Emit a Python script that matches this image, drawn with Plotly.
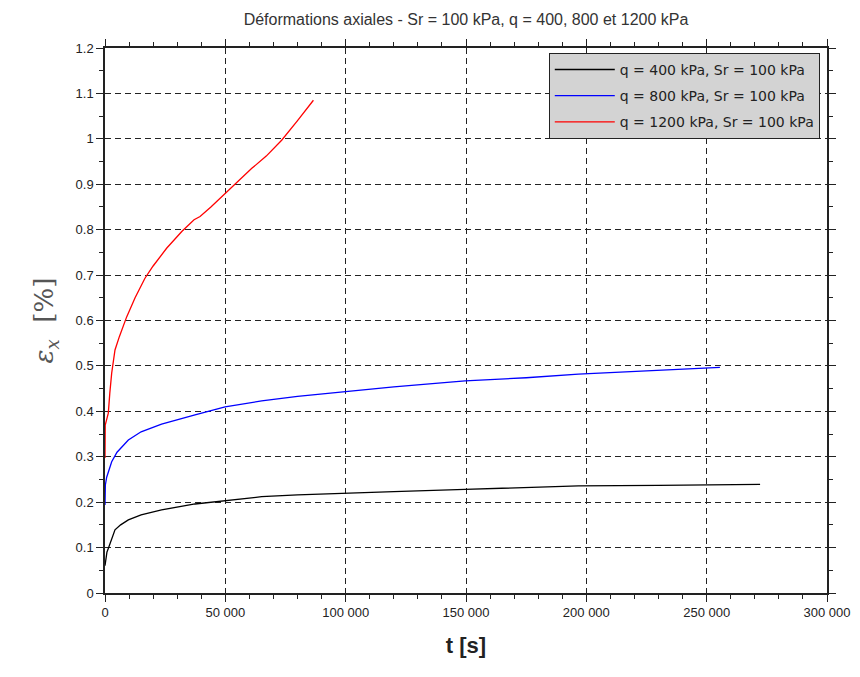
import plotly.graph_objects as go

t_400 = [0, 300, 800, 1370, 2500, 4150, 6500, 9700, 15000, 23500, 37400, 49900,
         65100, 80000, 93500, 120000, 149600, 175000, 196700, 230000, 272200]
eps_400 = [0.06, 0.075, 0.09, 0.098, 0.115, 0.139, 0.150, 0.161, 0.172, 0.183, 0.196, 0.203,
           0.212, 0.216, 0.218, 0.223, 0.228, 0.232, 0.236, 0.237, 0.239]

t_800 = [0, 150, 700, 1500, 2780, 5000, 9700, 15000, 23500, 37400, 49900, 65100,
         80000, 98900, 120000, 149600, 175000, 196700, 225000, 255500]
eps_800 = [0.194, 0.238, 0.255, 0.27, 0.289, 0.31, 0.337, 0.355, 0.372, 0.392, 0.41, 0.423,
           0.433, 0.443, 0.454, 0.467, 0.474, 0.482, 0.489, 0.497]

t_1200 = [0, 100, 600, 1370, 2000, 2780, 4150, 6000, 9000, 12500, 16600, 20000, 25600,
          31900, 37000, 39500, 44000, 49900, 55000, 61000, 67000, 73400, 80000, 86600]
eps_1200 = [0.297, 0.37, 0.38, 0.396, 0.44, 0.484, 0.535, 0.565, 0.608, 0.65, 0.693, 0.72, 0.759,
            0.796, 0.822, 0.829, 0.85, 0.88, 0.905, 0.935, 0.962, 0.997, 1.04, 1.085]

series_names = ["q = 400 kPa, Sr = 100 kPa", "q = 800 kPa, Sr = 100 kPa", "q = 1200 kPa, Sr = 100 kPa"]
series_colors = ["black", "blue", "red"]

x_tickvals = [0, 50000, 100000, 150000, 200000, 250000, 300000]
x_ticktext = ["0", "50 000", "100 000", "150 000", "200 000", "250 000", "300 000"]
y_tickvals = [0, 0.1, 0.2, 0.3, 0.4, 0.5, 0.6, 0.7, 0.8, 0.9, 1.0, 1.1, 1.2]
y_ticktext = ["0", "0.1", "0.2", "0.3", "0.4", "0.5", "0.6", "0.7", "0.8", "0.9", "1", "1.1", "1.2"]

fig = go.Figure()
for i, (t, e, n, c) in enumerate(zip([t_400, t_800, t_1200], [eps_400, eps_800, eps_1200],
                                     series_names, series_colors)):
    fig.add_trace(go.Scatter(x=t, y=e, mode="lines", name=n, legendgroup=f"g{i}",
                             line=dict(color=c, width=1.3)))

tickfont = dict(family="Liberation Sans, Arial, sans-serif", size=13, color="#222")
fig.update_layout(
    width=860, height=677,
    margin=dict(l=97, r=41, t=40, b=92),
    paper_bgcolor="white", plot_bgcolor="white",
    title=dict(text="Déformations axiales - Sr = 100 kPa, q = 400, 800 et 1200 kPa",
               x=0.5, xref="paper", xanchor="center", y=1 - 11 / 677, yanchor="middle",
               font=dict(family="Liberation Sans, Arial, sans-serif", size=16, color="#333")),
    showlegend=True,
    legend=dict(x=0.99, xanchor="right", y=0.991, yanchor="top",
                bgcolor="#d3d3d3", bordercolor="#222", borderwidth=1,
                font=dict(family="DejaVu Sans, sans-serif", size=14, color="#222"),
                itemwidth=60, tracegroupgap=5),
)
fig.update_xaxes(
    range=[0, 300000], tickvals=x_tickvals, ticktext=x_ticktext, tickfont=tickfont,
    showline=True, linecolor="#222", linewidth=1.5, mirror="allticks",
    ticks="outside", ticklen=7, tickcolor="#222", tickwidth=1.2,
    minor=dict(dtick=10000, tick0=0, ticks="outside", ticklen=4, tickcolor="#222", showgrid=False),
    showgrid=True, gridcolor="#222", gridwidth=1.2, griddash="6px,4px",
    zeroline=False,
    title=dict(text="<b>t [s]</b>", font=dict(family="Liberation Sans, Arial, sans-serif", size=22, color="#222"),
               standoff=18),
)
fig.update_yaxes(
    range=[0, 1.2], tickvals=y_tickvals, ticktext=y_ticktext, tickfont=tickfont,
    showline=True, linecolor="#222", linewidth=1.5, mirror="allticks",
    ticks="outside", ticklen=7, tickcolor="#222", tickwidth=1.2,
    minor=dict(dtick=0.05, tick0=0, ticks="outside", ticklen=4, tickcolor="#222", showgrid=False),
    showgrid=True, gridcolor="#222", gridwidth=1.2, griddash="6px,4px",
    zeroline=False,
    title=dict(text="<i>ε<sub>x</sub></i>  [%]", font=dict(family="DejaVu Serif, serif", size=26, color="#555"),
               standoff=14),
)
fig.write_html("out.html")
